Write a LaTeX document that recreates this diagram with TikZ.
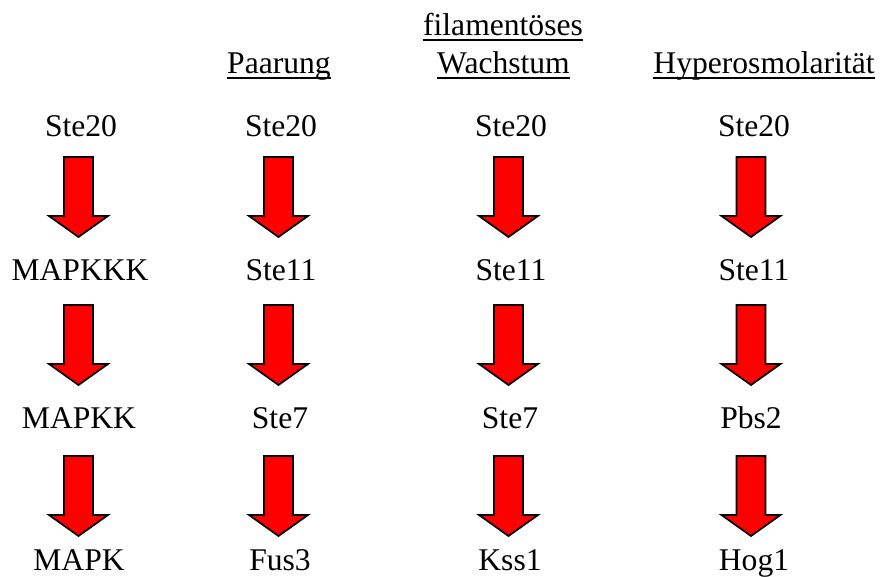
\documentclass[tikz,border=0pt]{standalone}
\usepackage{fontspec}
\setmainfont{Liberation Serif}
\begin{document}
\begin{tikzpicture}[x=1pt,y=-1pt,
  lbl/.style={inner sep=0pt,anchor=base,font=\fontsize{31.6}{36}\selectfont},
  uline/.style={line width=2pt},
  downarrow/.pic={\draw[fill=red,line width=1.7pt,line join=miter]
     (-14.5,0) -- (14.5,0) -- (14.5,59) -- (29.5,59) -- (0,80) -- (-29.5,59) -- (-14.5,59) -- cycle;}]
\useasboundingbox (0,0) rectangle (880,577);
% headers
\node[lbl] (h2) at (279,74) {Paarung};
\node[lbl] (h3a) at (503,36) {filamentöses};
\node[lbl] (h3b) at (503.5,74) {Wachstum};
\node[lbl] (h4) at (764,74) {Hyperosmolarität};
\foreach \h in {h2,h3a,h3b,h4}
  \draw[uline] ([yshift=-4.5pt]\h.base west) -- ([yshift=-4.5pt]\h.base east);
% column 1
\node[lbl] (a1) at (81,137) {Ste20};
\node[lbl] (a2) at (80,280) {MAPKKK};
\node[lbl] (a3) at (79,428) {MAPKK};
\node[lbl] (a4) at (79,570) {MAPK};
% column 2
\node[lbl] (b1) at (281,137) {Ste20};
\node[lbl] (b2) at (281,280) {Ste11};
\node[lbl] (b3) at (280,428) {Ste7};
\node[lbl] (b4) at (280,570) {Fus3};
% column 3
\node[lbl] (c1) at (511,137) {Ste20};
\node[lbl] (c2) at (511,280) {Ste11};
\node[lbl] (c3) at (510,428) {Ste7};
\node[lbl] (c4) at (510,570) {Kss1};
% column 4
\node[lbl] (d1) at (754,137) {Ste20};
\node[lbl] (d2) at (754,280) {Ste11};
\node[lbl] (d3) at (751,428) {Pbs2};
\node[lbl] (d4) at (754,570) {Hog1};
% arrows
\foreach \x in {78.5,278.5,508.5,751}
  \foreach \y in {157,305,456}
    \pic at (\x,\y) {downarrow};
\end{tikzpicture}
\end{document}
